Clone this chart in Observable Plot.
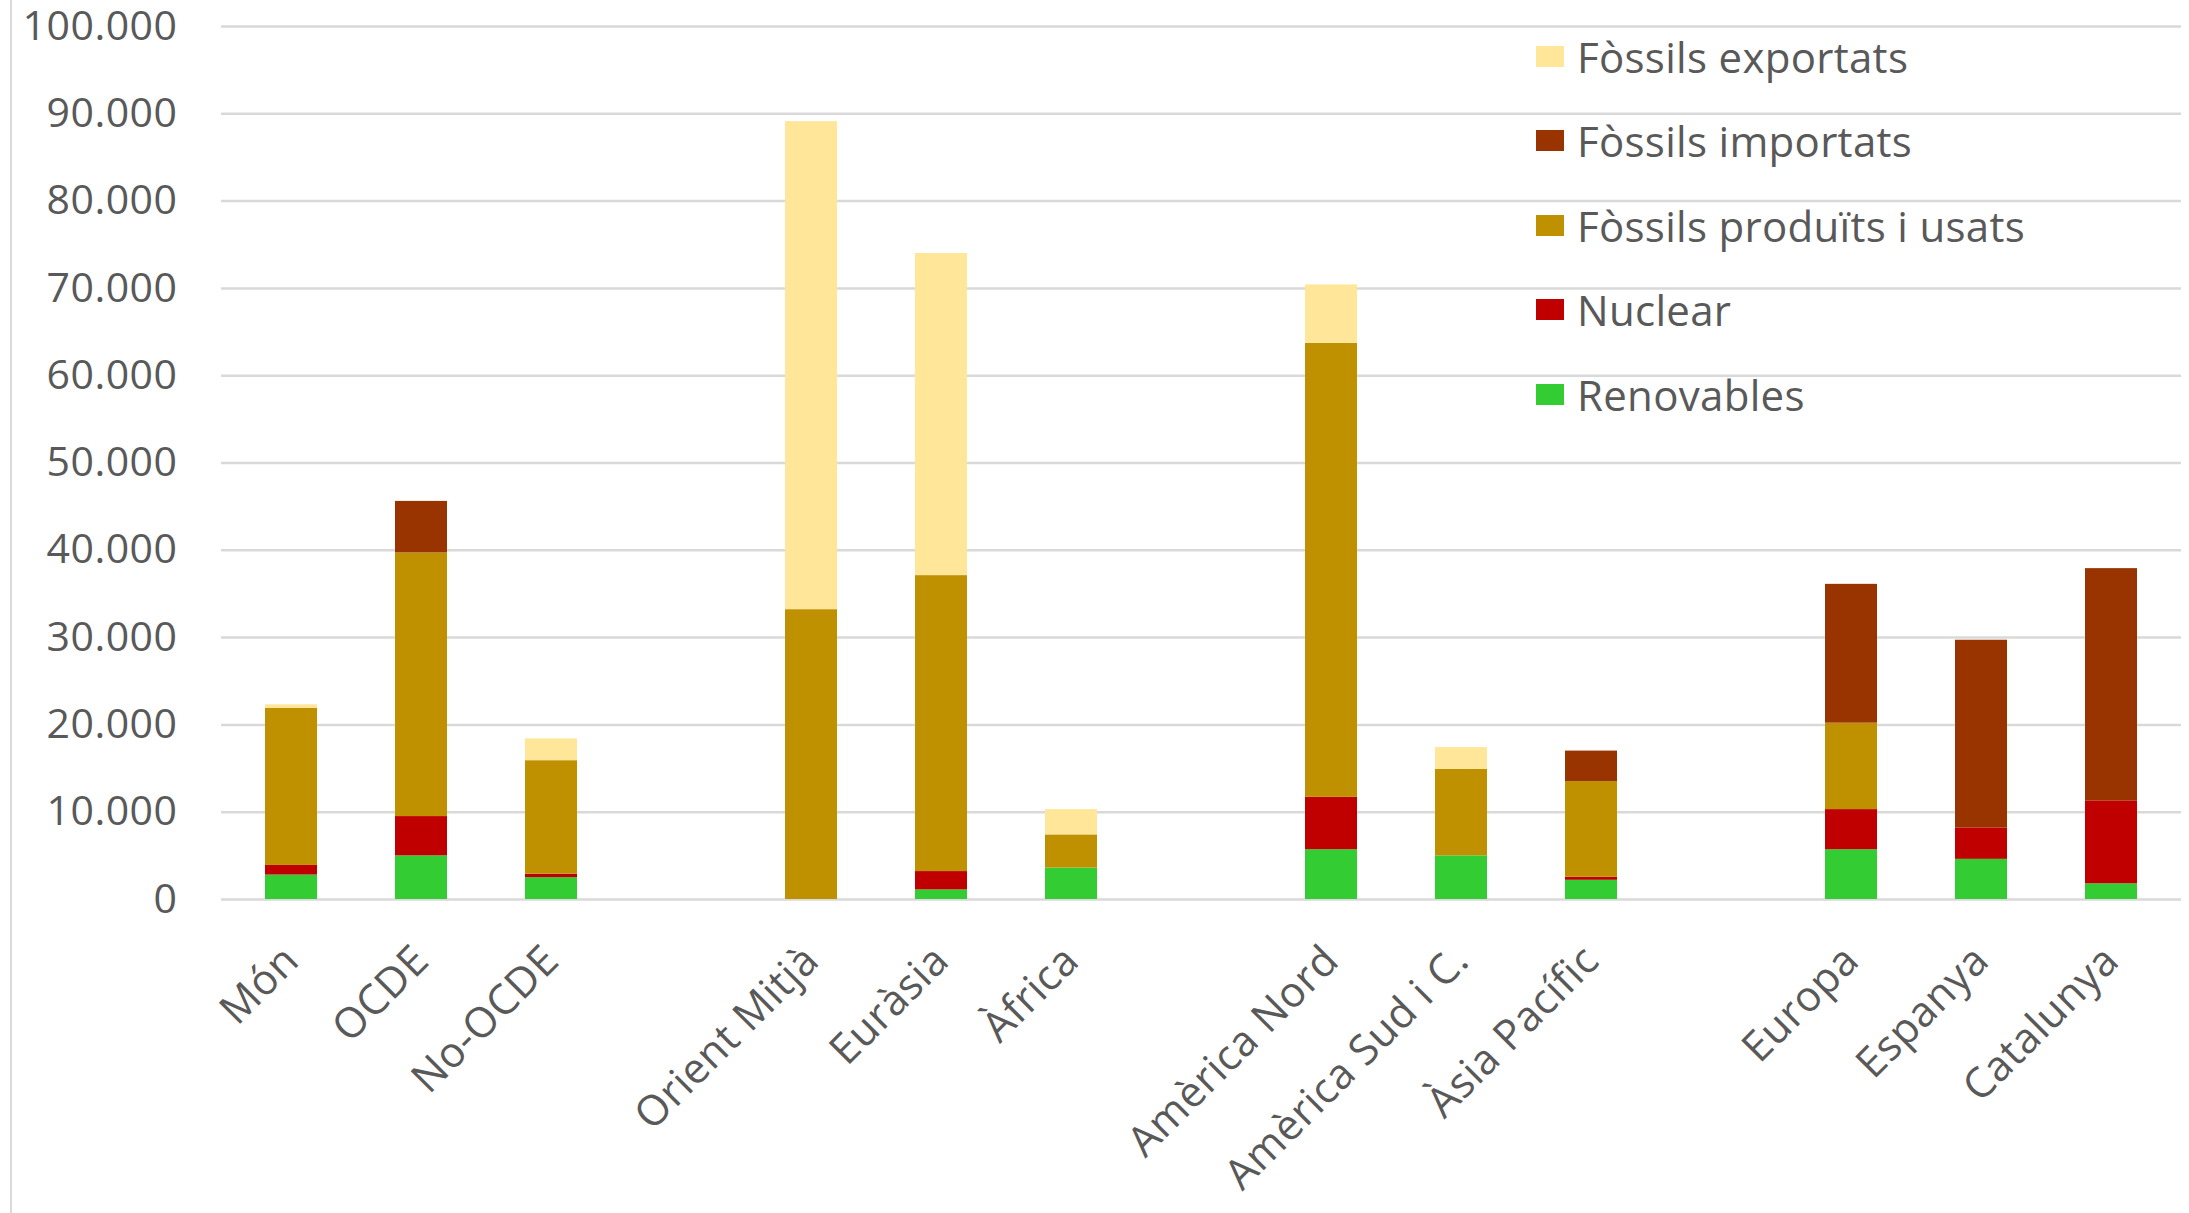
<!DOCTYPE html>
<html>
<head>
<meta charset="utf-8">
<script src="https://cdn.jsdelivr.net/npm/d3@7"></script>
<script src="https://cdn.jsdelivr.net/npm/@observablehq/plot@0.6"></script>
<style>
  html, body { margin: 0; padding: 0; background: #fff; }
  #wrap { position: relative; width: 2189px; height: 1213px; font-family: "Open Sans", sans-serif; }
  #edge { position: absolute; left: 10px; top: 0; width: 2px; height: 1213px; background: #d9d9d9; }
  #legend { position: absolute; left: 1536px; top: 14px; }
  .item { display: flex; align-items: center; height: 84.5px; font-size: 42px; color: #595959; letter-spacing: 0.3px; }
  .sw { width: 28px; height: 21px; margin-right: 13px; }
</style>
</head>
<body>
<div id="wrap"><div id="edge"></div><div id="legend"></div></div>
<script>
// Regions, in display order; gap markers leave an empty slot between groups
const slots = ["Món", "OCDE", "No-OCDE", "gap1",
  "Orient Mitjà", "Euràsia", "Àfrica", "gap2",
  "Amèrica Nord", "Amèrica Sud i C.", "Àsia Pacífic", "gap3",
  "Europa", "Espanya", "Catalunya"];
const categories = ["Món", "OCDE", "No-OCDE", "Orient Mitjà", "Euràsia", "Àfrica",
  "Amèrica Nord", "Amèrica Sud i C.", "Àsia Pacífic", "Europa", "Espanya", "Catalunya"];

// Series, stacked bottom to top
const series = ["Renovables", "Nuclear", "Fòssils produïts i usats", "Fòssils importats", "Fòssils exportats"];
const colors = ["#33cc33", "#c00000", "#bf9000", "#993300", "#ffe699"];

const renovables = [2800, 5000, 2500, 0, 1100, 3600, 5700, 5000, 2200, 5700, 4600, 1800];
const nuclear    = [1100, 4500, 400, 0, 2100, 0, 6000, 0, 350, 4600, 3600, 9500];
const produits   = [18000, 30200, 13000, 33200, 33900, 3800, 52000, 9900, 10950, 9900, 0, 0];
const importats  = [0, 5900, 0, 0, 0, 0, 0, 0, 3500, 15900, 21500, 26600];
const exportats  = [400, 0, 2500, 55900, 36900, 2900, 6700, 2500, 0, 0, 0, 0];

const yTicks = d3.range(0, 100001, 10000);

const valuesBySeries = [renovables, nuclear, produits, importats, exportats];
const rows = [];
categories.forEach((c, i) => {
  series.forEach((s, k) => rows.push({regio: c, serie: s, valor: valuesBySeries[k][i]}));
});

const fmt = d3.formatLocale({decimal: ",", thousands: ".", grouping: [3], currency: ["", "€"]}).format(",");

const chart = Plot.plot({
  width: 2189,
  height: 1213,
  marginTop: 26,
  marginBottom: 314,
  marginLeft: 221,
  marginRight: 8,
  style: {fontFamily: "Open Sans, sans-serif", fontSize: "42px", color: "#595959", background: "transparent", overflow: "visible"},
  x: {domain: slots, paddingInner: 0.6, paddingOuter: 0.3, label: null},
  y: {domain: [0, 100000], label: null},
  color: {domain: series, range: colors},
  marks: [
    Plot.ruleY(yTicks, {stroke: "#d9d9d9", strokeWidth: 2.5}),
    Plot.barY(rows, {x: "regio", y: "valor", fill: "serie", order: series}),
    Plot.axisY({ticks: yTicks, tickFormat: fmt, tickSize: 0, tickPadding: 44, fontSize: 41, fill: "#595959", label: null}),
    Plot.axisX({tickFormat: d => d.startsWith("gap") ? "" : d, tickSize: 0, tickPadding: 54,
      tickRotate: -45, fontSize: 42, fill: "#595959", label: null})
  ]
});
chart.querySelectorAll("text").forEach(t => t.style.letterSpacing = "0.5px");
document.getElementById("wrap").appendChild(chart);

// Legend, listed top to bottom from the top of the stack
const legend = d3.select("#legend");
for (let k = series.length - 1; k >= 0; k--) {
  const item = legend.append("div").attr("class", "item");
  item.append("div").attr("class", "sw").style("background", colors[k]);
  item.append("span").text(series[k]);
}
</script>
</body>
</html>
